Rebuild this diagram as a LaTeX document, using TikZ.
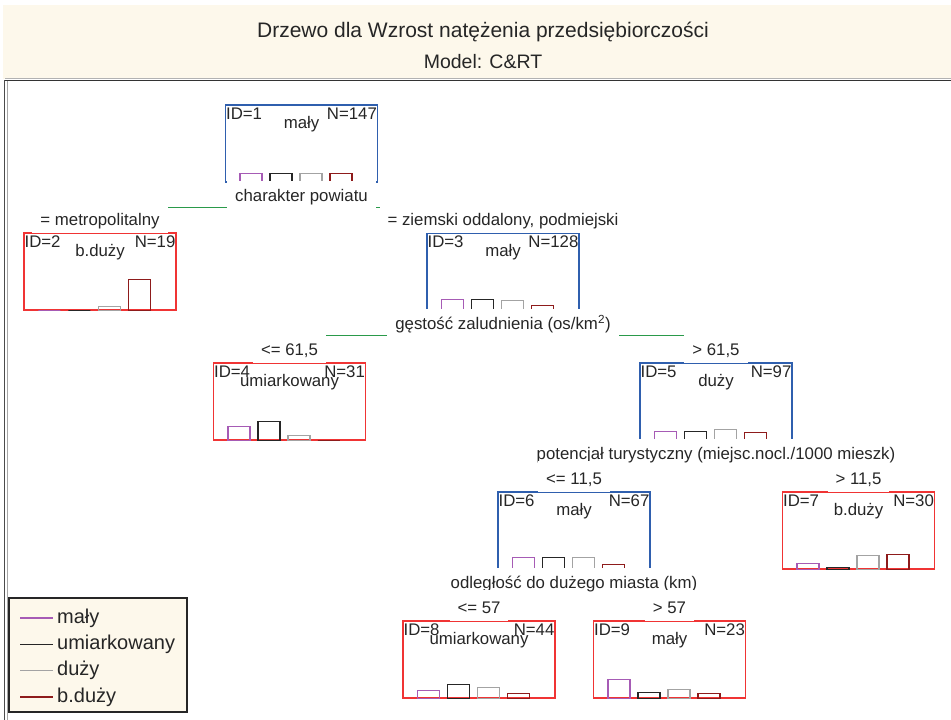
\documentclass[tikz,border=0pt]{standalone}
\usepackage{fontspec}
\setmainfont{Liberation Sans}
\usetikzlibrary{backgrounds}
\definecolor{boxblue}{HTML}{2F5FAE}
\definecolor{boxred}{HTML}{F03434}
\definecolor{splitgreen}{HTML}{2A9A4A}
\definecolor{cmaly}{HTML}{A65BB5}
\definecolor{cumiar}{HTML}{262626}
\definecolor{cduzy}{HTML}{A3A3A3}
\definecolor{cbduzy}{HTML}{8E1B1B}
\definecolor{beige}{HTML}{FDF8EB}
\newcommand{\nodefont}{\fontsize{16.8}{18}\selectfont}
\newcommand{\legfont}{\fontsize{20}{22}\selectfont}
% ID, class and N inside a tree box
\newcommand{\boxinfo}[4]{%
  \node[anchor=base west, inner sep=0pt] (#1id) at ([shift={(1,15)}]#1.north west) {ID=#2};
  \node[anchor=base, inner sep=0pt] (#1cl) at ([shift={(0,24)}]#1.north) {#3};
  \node[anchor=base east, inner sep=0pt] (#1n) at ([shift={(-1,15)}]#1.north east) {N=#4};}
% class histogram
\newcommand{\histo}[5]{%
  \foreach \h/\c [count=\i from 0] in {#2/cmaly,#3/cumiar,#4/cduzy,#5/cbduzy}
    \draw[draw=\c, line width=1.2pt] ([xshift=15+30*\i]#1.south west) rectangle ++(22,-\h);}
\tikzset{
  every node/.style={font=\nodefont, text=black!85},
  splitbox/.style={draw=boxblue, line width=1.2pt, minimum width=152, minimum height=77, inner sep=0pt},
  leafbox/.style={splitbox, draw=boxred},
  splitlab/.style={fill=white, inner xsep=8pt, inner ysep=0pt, text height=21pt, text depth=8pt},
  branchlab/.style={fill=white, inner xsep=8pt, inner ysep=0pt, text height=23pt, text depth=7.6pt},
  greenline/.style={draw=splitgreen, line width=1.2pt}
}
\begin{document}
\begin{tikzpicture}[x=1pt, y=-1pt]
\useasboundingbox (0,0) rectangle (951,720);
% header
\fill[beige] (3,5) rectangle (951,79);
\node[font=\fontsize{21}{24}\selectfont] (title) at (483,32) {Drzewo dla Wzrost natężenia przedsiębiorczości};
\node[font=\fontsize{19.5}{22}\selectfont] (model) at (483,62) {Model: C\&RT};
\draw[black!30, line width=1pt] (5,78.5) -- (951,78.5);
\draw[black!80, line width=1.5pt] (5,80.5) -- (951,80.5);
\draw[black!70, line width=1pt] (4.5,80) -- (4.5,720);
\draw[black!35, line width=1pt] (7,81) -- (7,720);
% tree boxes
\node[splitbox] (n1) at (301.5,143.5) {};
\node[leafbox] (n2) at (100,271.5) {};
\node[splitbox] (n3) at (503,271.5) {};
\node[leafbox] (n4) at (289.5,401.5) {};
\node[splitbox] (n5) at (716,401.5) {};
\node[splitbox] (n6) at (574,530.5) {};
\node[leafbox] (n7) at (858.5,530.5) {};
\node[leafbox] (n8) at (479,659.5) {};
\node[leafbox] (n9) at (669.5,659.5) {};
\histo{n1}{9}{9}{9}{9}
\histo{n2}{0}{0}{4}{31}
\histo{n3}{11}{11}{10}{5}
\histo{n4}{14}{19}{5}{0}
\histo{n5}{9}{9}{11}{8}
\histo{n6}{12}{12}{12}{5}
\histo{n7}{6}{2}{14}{15}
\histo{n8}{8}{14}{11}{5}
\histo{n9}{19}{6}{9}{5}
\boxinfo{n1}{1}{mały}{147}
\boxinfo{n2}{2}{b.duży}{19}
\boxinfo{n3}{3}{mały}{128}
\boxinfo{n4}{4}{umiarkowany}{31}
\boxinfo{n5}{5}{duży}{97}
\boxinfo{n6}{6}{mały}{67}
\boxinfo{n7}{7}{b.duży}{30}
\boxinfo{n8}{8}{umiarkowany}{44}
\boxinfo{n9}{9}{mały}{23}
% split variables
\node[splitlab, anchor=north] (s1) at ([yshift=2]n1.south) {charakter powiatu};
\node[splitlab, anchor=north] (s3) at ([yshift=2]n3.south) {gęstość zaludnienia (os/km\textsuperscript{2})};
\node[splitlab, anchor=north] (s5) at ([yshift=2]n5.south) {potencjał turystyczny (miejsc.nocl./1000 mieszk)};
\node[splitlab, anchor=north] (s6) at ([yshift=2]n6.south) {odległość do dużego miasta (km)};
% split conditions
\node[branchlab, anchor=south] (b2) at ([yshift=-0.6]n2.north) {= metropolitalny};
\node[branchlab, anchor=south] (b3) at ([yshift=-0.6]n3.north) {= ziemski oddalony, podmiejski};
\node[branchlab, anchor=south] (b4) at ([yshift=-0.6]n4.north) {<= 61,5};
\node[branchlab, anchor=south] (b5) at ([yshift=-0.6]n5.north) {> 61,5};
\node[branchlab, anchor=south] (b6) at ([yshift=-0.6]n6.north) {<= 11,5};
\node[branchlab, anchor=south] (b7) at ([yshift=-0.6]n7.north) {> 11,5};
\node[branchlab, anchor=south] (b8) at ([yshift=-0.6]n8.north) {<= 57};
\node[branchlab, anchor=south] (b9) at ([yshift=-0.6]n9.north) {> 57};
\begin{scope}[on background layer]
\draw[greenline] ([yshift=2.5]n2.north |- s1.south) -- ([yshift=2.5]n3.north |- s1.south);
\draw[greenline] ([yshift=2.5]n4.north |- s3.south) -- ([yshift=2.5]n5.north |- s3.south);
\draw[greenline] ([yshift=2.5]n6.north |- s5.south) -- ([yshift=2.5]n7.north |- s5.south);
\draw[greenline] ([yshift=2.5]n8.north |- s6.south) -- ([yshift=2.5]n9.north |- s6.south);
\end{scope}
% legend
\draw[fill=beige, draw=black!85, line width=2pt] (9,598) rectangle (187,712);
\foreach \t/\c [count=\i from 0] in {mały/cmaly, umiarkowany/cumiar, duży/cduzy, b.duży/cbduzy} {
  \node[anchor=west, inner sep=0pt, font=\legfont] (leg\i) at (57,618+26.3*\i) {\t};
  \draw[\c, line width=1.2pt] ([xshift=-37]leg\i.west) -- ([xshift=-4]leg\i.west);
}
\end{tikzpicture}
\end{document}
